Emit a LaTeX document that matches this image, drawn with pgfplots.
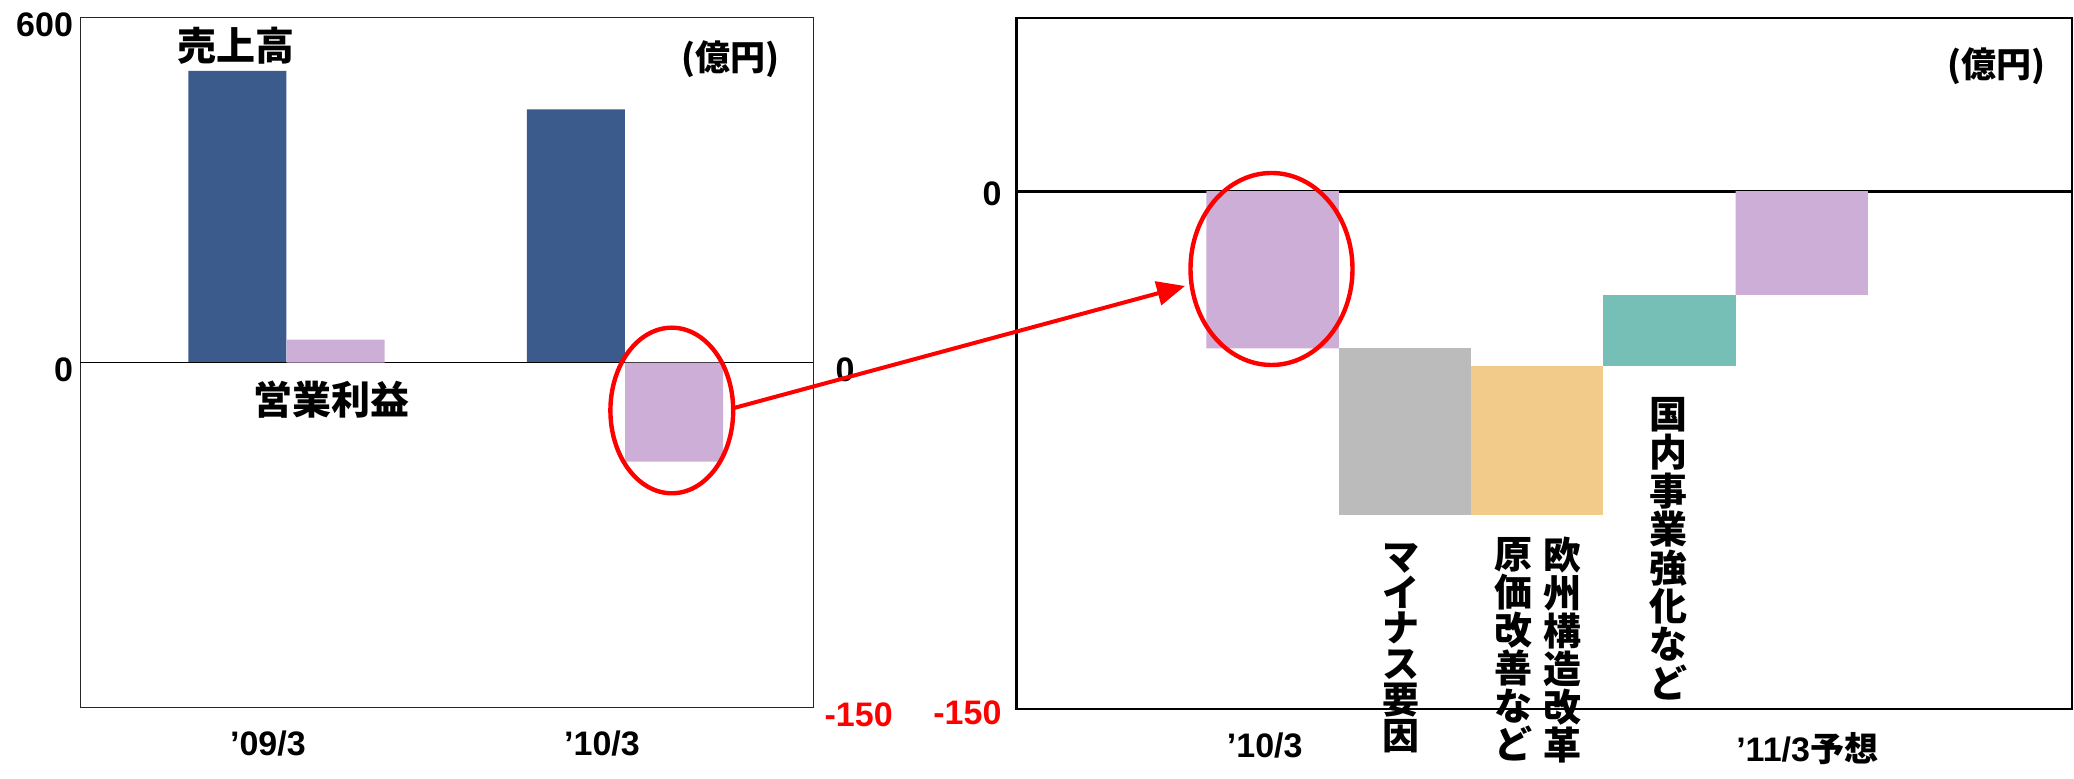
\documentclass[border=0pt]{standalone}
\usepackage{fontspec}
\setmainfont{Liberation Sans}
\newfontfamily\jp{Noto Sans CJK JP}
\usepackage{pgfplots}
\pgfplotsset{compat=1.18}
\usetikzlibrary{arrows.meta}

\definecolor{salesblue}{HTML}{3B5B8D}
\definecolor{oplilac}{HTML}{CCAED6}
\definecolor{minusgray}{HTML}{BBBBBB}
\definecolor{costorange}{HTML}{F2CB8A}
\definecolor{domteal}{HTML}{75BFB7}

\pgfplotsset{
  panel/.style={
    scale only axis,
    /pgf/number format/assume math mode=true,
    ticklabel style={font=\fontsize{17}{17}\selectfont\bfseries},
    major tick length=0pt,
    xticklabel style={yshift=-8pt},
  },
}

\begin{document}
\begin{tikzpicture}
% left: sales (primary axis)
\begin{axis}[panel,
    at={(40pt,35.5pt)}, anchor=south west,
    width=366.8pt, height=345.3pt,
    xmin=-0.61, xmax=1.557, ymin=-600, ymax=600,
    axis line style={black!85, line width=0.5pt},
    ytick={0,600}, yticklabel style={yshift=-3.5pt},
    xtick={-0.055,0.932}, xticklabels={’09/3,’10/3},
  ]
  \addplot[ybar, bar width=0.2895, bar shift=-0.145, fill=salesblue, draw=none]
    coordinates {(0,507) (1,440)};
  \draw[black, line width=0.5pt] ({rel axis cs:0,0}|-{axis cs:0,0}) -- ({rel axis cs:1,0}|-{axis cs:0,0});
\end{axis}
% left: operating profit (secondary axis)
\begin{axis}[panel,
    at={(40pt,35.5pt)}, anchor=south west,
    width=366.8pt, height=345.3pt,
    xmin=-0.61, xmax=1.557, ymin=-150, ymax=150,
    axis x line=none, axis y line*=right,
    axis line style={black!85, line width=0.5pt},
    ytick={-150,0}, yticklabels={\textcolor{red}{-150}, \hspace{5.5pt}0},
    yticklabel style={xshift=2pt, yshift=-3.5pt},
  ]
  \addplot[ybar, bar width=0.2895, bar shift=0.145, fill=oplilac, draw=none]
    coordinates {(0,10) (1,-43)};
\end{axis}
% right: operating profit bridge
\begin{axis}[panel,
    at={(508.25pt,34.8pt)}, anchor=south west,
    width=527.75pt, height=345.5pt,
    xmin=-1.936, xmax=6.042, ymin=-150, ymax=50,
    axis line style={black, line width=1.1pt},
    ybar stacked, bar width=1,
    ytick={-150,0}, yticklabels={\textcolor{red}{-150}, 0\hspace{2.5pt}},
    yticklabel style={xshift=-4pt, yshift=-1.5pt},
    xtick={-0.06,4.04}, xticklabels={’10/3, ’11/3{\jp 予想}},
  ]
  % invisible base of the floating bars
  \addplot[draw=none, fill=none] coordinates {(0,0) (1,-45.5) (2,-50.5) (3,-30) (4,0)};
  \addplot[draw=none, fill=oplilac] coordinates {(0,-45.5) (1,0) (2,0) (3,0) (4,-30)};
  \addplot[draw=none, fill=minusgray] coordinates {(0,0) (1,-48.3) (2,0) (3,0) (4,0)};
  \addplot[draw=none, fill=costorange] coordinates {(0,0) (1,0) (2,-43.3) (3,0) (4,0)};
  \addplot[draw=none, fill=domteal] coordinates {(0,0) (1,0) (2,0) (3,-20.5) (4,0)};
  \draw[black, line width=1.5pt] ({rel axis cs:0,0}|-{axis cs:0,0}) -- ({rel axis cs:1,0}|-{axis cs:0,0});
\end{axis}

% annotations
\begin{scope}[every node/.style={inner sep=0pt}]
  \node[font=\jp\bfseries\fontsize{19.5}{19.5}\selectfont] at (118pt,366.5pt) {売上高};
  \node[font=\jp\bfseries\fontsize{19.5}{19.5}\selectfont] at (165.5pt,189.5pt) {営業利益};
  \node[font=\jp\bfseries\fontsize{17.5}{17.5}\selectfont] at (365.3pt,360pt) {(億円)};
  \node[font=\jp\bfseries\fontsize{17.5}{17.5}\selectfont] at (998.3pt,356.5pt) {(億円)};
  \node[anchor=north, align=center, font=\jp\bfseries\fontsize{18.5}{17.9}\selectfont]
    at (700.5pt,118pt) {マ\\イ\\ナ\\ス\\要\\因};
  \node[anchor=north, align=center, font=\jp\bfseries\fontsize{19}{19}\selectfont]
    at (756.5pt,121pt) {原\\価\\改\\善\\な\\ど};
  \node[anchor=north, align=center, font=\jp\bfseries\fontsize{19}{19}\selectfont]
    at (781pt,121pt) {欧\\州\\構\\造\\改\\革\\、};
  \node[anchor=north, align=center, font=\jp\bfseries\fontsize{19}{19.2}\selectfont]
    at (834pt,191pt) {国\\内\\事\\業\\強\\化\\な\\ど};
\end{scope}
\draw[red, line width=2.2pt] (335.9pt,184.25pt) ellipse [x radius=30.7pt, y radius=41.4pt];
\draw[red, line width=2.2pt] (635.75pt,255pt) ellipse [x radius=40.5pt, y radius=48pt];
\draw[red, line width=2pt, -{Triangle[length=14pt,width=12pt]}] (367pt,185.5pt) -- (592.5pt,246.5pt);

\pgfresetboundingbox
\useasboundingbox (0pt,0pt) rectangle (1037pt,389.5pt);
\end{tikzpicture}
\end{document}
